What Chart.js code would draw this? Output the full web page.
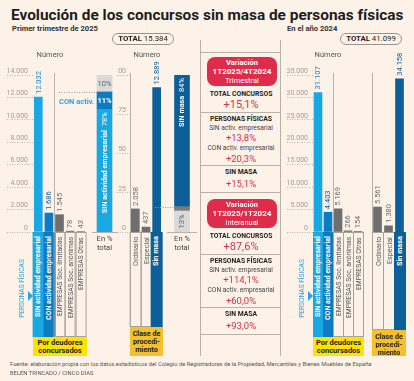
<!DOCTYPE html>
<html>
<head>
<meta charset="utf-8">
<script src="https://cdn.jsdelivr.net/npm/chart.js@4.4.1/dist/chart.umd.min.js"></script>
<style>
  body { margin: 0; background: #fdf2e8; font-family: Roboto, "Liberation Sans", sans-serif; color: #222; }
  #page { position: relative; width: 414px; height: 381px; overflow: hidden; }
  canvas { position: absolute; }
  .col { position: absolute; box-sizing: border-box; writing-mode: vertical-rl; transform: rotate(180deg);
         text-align: end; white-space: nowrap; overflow: hidden; font-size: 6.8px; }
</style>
</head>
<body>
<div id="page"></div>
<script>
// ---- data ----
const deudores = ["SIN actividad empresarial", "CON actividad empresarial", "EMPRESAS Soc. limitadas", "EMPRESAS Soc. anónimas", "EMPRESAS Otras"];
const deudores2025 = [12032, 1686, 1545, 78, 43];
const deudores2024 = [31107, 4403, 5169, 266, 154];
const clases = ["Ordinario", "Especial", "Sin masa"];
const clases2025 = [2058, 437, 12889];
const clases2024 = [5561, 1380, 34158];
const pctDeudores2025 = [78.2, 11.0, 10.8];   // SIN activ., CON activ., empresas
const pctDeudoresTxt = ["78%", "11%", "10%"];
const pctClases2025 = [13.4, 2.8, 83.8];      // ordinario, especial, sin masa
const pctClasesTxt = ["13%", "3%", "84%"];
const ticks2025 = [0, 2000, 4000, 6000, 8000, 10000, 12000, 14000];
const ticks2024 = [0, 5000, 10000, 15000, 20000, 25000, 30000, 35000];
const pctTicks = [0, 25, 50, 75, 100];
const totales = [15384, 41099];
const varGrupos = ["TOTAL CONCURSOS", "PERSONAS FÍSICAS", "SIN MASA"];
const varTrimestral = [15.1, 13.8, 20.3, 15.1];
const varInteranual = [87.6, 114.1, 60.0, 93.0];

const CYAN = '#1aa8e3', MID = '#0c7cc2', DARK = '#0c5f98', GRAY = '#6f6f6f', LIGHT = '#d9d9d9';
const RED = '#df2c4b', REDTXT = '#d2334f';

const page = document.getElementById('page');
const fmt = n => String(n).replace(/\B(?=(\d{3})+(?!\d))/g, '.');
const varFmt = n => '+' + n.toFixed(1).replace('.', ',') + '%';

function el(css, html) {
  const d = document.createElement('div');
  d.style.cssText = 'position:absolute;' + css;
  if (html) d.innerHTML = html;
  page.appendChild(d);
  return d;
}
function txt(x, y, html, css, left) {
  const t = left ? 'translate(0,-50%)' : 'translate(-50%,-50%)';
  return el(`left:${x}px;top:${y}px;transform:${t};white-space:nowrap;line-height:1;${css || ''}`, html);
}
function line(x1, y1, x2, y2, c) {
  el(`left:${x1}px;top:${y1}px;width:${Math.max(1, x2 - x1)}px;height:${Math.max(1, y2 - y1)}px;background:${c || '#b9b0a8'}`);
}
function addCanvas(x, y, w, h) {
  const c = document.createElement('canvas');
  c.width = w; c.height = h;
  c.style.left = x + 'px'; c.style.top = y + 'px';
  c.style.width = w + 'px'; c.style.height = h + 'px';
  page.appendChild(c);
  return c;
}

Chart.defaults.font.family = 'Roboto';

// rotated value above each bar
const barValues = {
  id: 'barValues',
  afterDatasetsDraw(chart, args, opts) {
    if (!opts || !opts.colors) return;
    const ctx = chart.ctx;
    const data = chart.data.datasets[0].data;
    ctx.save();
    ctx.font = '7.5px Roboto';
    ctx.textBaseline = 'middle';
    ctx.textAlign = 'left';
    chart.getDatasetMeta(0).data.forEach((bar, i) => {
      ctx.save();
      ctx.translate(bar.x + 0.5, bar.y - 3);
      ctx.rotate(-Math.PI / 2);
      ctx.fillStyle = opts.colors[i];
      ctx.fillText(fmt(data[i]), 0, 0);
      ctx.restore();
    });
    ctx.restore();
  }
};
// thin line at zero
const baseline = {
  id: 'baseline',
  afterDatasetsDraw(chart, args, opts) {
    if (!opts || !opts.show) return;
    const ctx = chart.ctx, y = chart.scales.y.getPixelForValue(0);
    ctx.save();
    ctx.strokeStyle = '#b9b0a8'; ctx.lineWidth = 1;
    ctx.beginPath(); ctx.moveTo(chart.chartArea.left, y + 0.5); ctx.lineTo(chart.chartArea.right, y + 0.5); ctx.stroke();
    ctx.restore();
  }
};
Chart.register(barValues, baseline);

function tickAxis(max, ticks, width, tickLen, pad) {
  return {
    min: 0, max: max,
    afterBuildTicks: s => { s.ticks = ticks.map(v => ({ value: v })); },
    afterFit: s => { s.width = width; },
    border: { display: false },
    grid: { drawOnChartArea: false, drawTicks: true, tickLength: tickLen, tickColor: '#bdb3aa', tickBorderDash: [1, 1.5] },
    ticks: { padding: pad, labelOffset: -4, color: '#a39b94', font: { size: 7 }, callback: v => fmt(v) }
  };
}
function baseOpts(pad) {
  return {
    responsive: false, animation: false, events: [],
    layout: { padding: pad },
    plugins: { legend: { display: false }, tooltip: { enabled: false } }
  };
}

// ---- 1T2025 por deudores ----
let o = baseOpts({ top: 12, bottom: 4, left: 0, right: 0 });
o.plugins.barValues = { colors: ['#1b86c9', DARK, GRAY, GRAY, GRAY] };
o.scales = { x: { display: false }, y: tickAxis(14000, ticks2025, 28, 26, -21) };
new Chart(addCanvas(5, 63, 81, 173), {
  type: 'bar',
  data: { labels: deudores, datasets: [{ data: deudores2025, backgroundColor: [CYAN, MID, GRAY, GRAY, GRAY], barThickness: 8 }] },
  options: o
});

// ---- 1T2025 clase de procedimiento (with % axis) ----
o = baseOpts({ top: 30, bottom: 4, left: 0, right: 0 });
o.plugins.barValues = { colors: [GRAY, GRAY, DARK] };
o.scales = {
  x: { display: false },
  y: { display: false, min: 0, max: 14000 },
  pct: Object.assign(tickAxis(100, pctTicks, 13, 13, -9), { type: 'linear', position: 'left' })
};
new Chart(addCanvas(117, 45, 45, 191), {
  type: 'bar',
  data: { labels: clases, datasets: [{ data: clases2025, backgroundColor: [GRAY, GRAY, DARK], barThickness: 8 }] },
  options: o
});

// ---- 1T2025 % deudores ----
o = baseOpts({ top: 12, bottom: 4, left: 35, right: 0 });
o.plugins.baseline = { show: true };
o.scales = { x: { display: false, stacked: true }, y: { display: false, stacked: true, min: 0, max: 100 } };
new Chart(addCanvas(57, 63, 60, 173), {
  type: 'bar',
  data: {
    labels: ['En % total'],
    datasets: [
      { data: [pctDeudores2025[0]], backgroundColor: CYAN, barThickness: 15 },
      { data: [pctDeudores2025[1]], backgroundColor: MID, barThickness: 15 },
      { data: [pctDeudores2025[2]], backgroundColor: LIGHT, barThickness: 15 }
    ]
  },
  options: o,
  plugins: [{
    id: 'segs',
    afterDatasetsDraw(chart) {
      const ctx = chart.ctx;
      const s = [0, 1, 2].map(i => chart.getDatasetMeta(i).data[0]);
      ctx.save();
      ctx.textBaseline = 'middle';
      // SIN actividad
      ctx.save();
      ctx.translate(s[0].x + 0.5, s[0].y + 3);
      ctx.rotate(-Math.PI / 2);
      ctx.textAlign = 'right'; ctx.fillStyle = '#fff';
      ctx.font = '7.5px Roboto';
      const p = pctDeudoresTxt[0];
      ctx.fillText(p, 0, 0);
      const w = ctx.measureText(p).width;
      ctx.font = 'bold 7.2px Roboto';
      ctx.fillText('SIN actividad empresarial', -w - 4, 0);
      ctx.restore();
      // CON
      ctx.textAlign = 'center';
      ctx.font = 'bold 7.5px Roboto'; ctx.fillStyle = '#fff';
      ctx.fillText(pctDeudoresTxt[1], s[1].x, (s[1].y + s[1].base) / 2 + 0.5);
      ctx.font = '7.5px Roboto'; ctx.fillStyle = '#666';
      ctx.fillText(pctDeudoresTxt[2], s[2].x, (s[2].y + s[2].base) / 2 + 0.5);
      // dotted connector + label
      ctx.strokeStyle = '#999'; ctx.setLineDash([1, 1.5]); ctx.lineWidth = 1;
      ctx.beginPath();
      ctx.moveTo(2, Math.round(s[1].y) + 0.5); ctx.lineTo(s[1].x - s[1].width / 2, Math.round(s[1].y) + 0.5);
      ctx.stroke();
      ctx.setLineDash([]);
      ctx.textAlign = 'left'; ctx.font = 'bold 7.5px Roboto'; ctx.fillStyle = '#2ba3dc';
      ctx.fillText('CON activ.', 2, s[1].y + 10);
      ctx.restore();
    }
  }]
});

// ---- 1T2025 % clase ----
o = baseOpts({ top: 12, bottom: 4, left: 17, right: 0 });
o.plugins.baseline = { show: true };
o.scales = { x: { display: false, stacked: true }, y: { display: false, stacked: true, min: 0, max: 100 } };
new Chart(addCanvas(150, 63, 47, 173), {
  type: 'bar',
  data: {
    labels: ['En % total'],
    datasets: [
      { data: [pctClases2025[0]], backgroundColor: LIGHT, barThickness: 15 },
      { data: [pctClases2025[1]], backgroundColor: '#7a7a7a', barThickness: 15 },
      { data: [pctClases2025[2]], backgroundColor: DARK, barThickness: 15 }
    ]
  },
  options: o,
  plugins: [{
    id: 'segs2',
    afterDatasetsDraw(chart) {
      const ctx = chart.ctx;
      const s = [0, 1, 2].map(i => chart.getDatasetMeta(i).data[0]);
      ctx.save();
      ctx.textBaseline = 'middle';
      ctx.save();
      ctx.translate(s[2].x + 0.5, s[2].y + 3);
      ctx.rotate(-Math.PI / 2);
      ctx.textAlign = 'right'; ctx.fillStyle = '#fff';
      ctx.font = '7.5px Roboto';
      const p = pctClasesTxt[2];
      ctx.fillText(p, 0, 0);
      const w = ctx.measureText(p).width;
      ctx.font = 'bold 7.2px Roboto';
      ctx.fillText('SIN masa', -w - 4, 0);
      ctx.restore();
      ctx.save();
      ctx.translate(s[0].x + 0.5, (s[0].y + s[0].base) / 2);
      ctx.rotate(-Math.PI / 2);
      ctx.textAlign = 'center'; ctx.fillStyle = '#666'; ctx.font = '7.5px Roboto';
      ctx.fillText(pctClasesTxt[0], 0, 0);
      ctx.restore();
      ctx.strokeStyle = '#999'; ctx.setLineDash([1, 1.5]); ctx.lineWidth = 1;
      ctx.beginPath();
      ctx.moveTo(5, Math.round(s[1].y) + 0.5); ctx.lineTo(s[1].x - s[1].width / 2, Math.round(s[1].y) + 0.5);
      ctx.stroke();
      ctx.restore();
    }
  }]
});

// ---- 2024 por deudores ----
o = baseOpts({ top: 30, bottom: 4, left: 0, right: 0 });
o.plugins.barValues = { colors: ['#1b86c9', DARK, GRAY, GRAY, GRAY] };
o.scales = { x: { display: false }, y: tickAxis(35000, ticks2024, 28, 26, -21) };
new Chart(addCanvas(285, 45, 78, 191), {
  type: 'bar',
  data: { labels: deudores, datasets: [{ data: deudores2024, backgroundColor: [CYAN, MID, GRAY, GRAY, GRAY], barThickness: 8 }] },
  options: o
});

// ---- 2024 clase ----
o = baseOpts({ top: 30, bottom: 4, left: 0, right: 0 });
o.plugins.barValues = { colors: [GRAY, GRAY, DARK] };
o.scales = { x: { display: false }, y: { display: false, min: 0, max: 35000 } };
new Chart(addCanvas(372, 45, 33, 191), {
  type: 'bar',
  data: { labels: clases, datasets: [{ data: clases2024, backgroundColor: [GRAY, GRAY, DARK], barThickness: 8 }] },
  options: o
});

// ---- headings ----
txt(11, 16, 'Evolución de los concursos sin masa de personas físicas',
  'font-family:"Liberation Sans Narrow",Roboto,sans-serif;font-weight:bold;font-size:15.4px;color:#1d1d1d', true);
txt(12, 29, 'Primer trimestre de 2025', 'font-weight:bold;font-size:7.6px;color:#333', true);
txt(287, 29, 'En el año 2024', 'font-weight:bold;font-size:7.6px;color:#333', true);
el('left:112px;top:33px;width:62px;height:12px;border:1px solid #9a938c;border-radius:7px;box-sizing:border-box;' +
   'font-size:7.8px;line-height:10px;text-align:center;color:#222', '<b>TOTAL</b> ' + fmt(totales[0]));
el('left:340px;top:33px;width:62px;height:12px;border:1px solid #9a938c;border-radius:7px;box-sizing:border-box;' +
   'font-size:7.8px;line-height:10px;text-align:center;color:#222', '<b>TOTAL</b> ' + fmt(totales[1]));
txt(50, 55, 'Número', 'font-size:7.5px;color:#555');
txt(147, 55, 'Número', 'font-size:7.5px;color:#555');
txt(328, 55, 'Número', 'font-size:7.5px;color:#555');
txt(104.5, 239, 'En %', 'font-size:7.5px;color:#444');
txt(104.5, 248, 'total', 'font-size:7.5px;color:#444');
txt(182, 239, 'En %', 'font-size:7.5px;color:#444');
txt(182, 248, 'total', 'font-size:7.5px;color:#444');

// separators
line(54, 73, 55, 232);
line(130, 73, 131, 327);
line(333, 73, 334, 232);
line(372, 73, 373, 330);

// ---- label boxes under bars ----
function deudorBoxes(x0, cw) {
  const fills = [CYAN, MID, null, null, null];
  deudores.forEach((name, i) => {
    const f = fills[i];
    el(`left:${x0 + i * cw}px;top:232px;width:${cw + 1}px;height:105px;` +
       (f ? `background:${f};color:#fff;font-weight:bold;font-size:7px;` : 'border:1px solid #a9a29b;color:#555;') +
       `line-height:${cw}px;padding-bottom:4px;`, name).className = 'col';
  });
  el(`left:${x0}px;top:337px;width:${cw * 5 + 1}px;height:19px;background:#ffe200;font-weight:bold;font-size:7.5px;` +
     'line-height:8px;text-align:center;padding-top:2px;box-sizing:border-box;color:#222', 'Por deudores<br>concursados');
}
function claseBoxes(x0, cw, h) {
  clases.forEach((name, i) => {
    const dark = i === 2;
    el(`left:${x0 + i * cw}px;top:232px;width:${cw + 1}px;height:${h}px;` +
       (dark ? `background:${DARK};color:#fff;font-weight:bold;font-size:7.2px;` : 'border:1px solid #a9a29b;color:#666;font-size:7.2px;') +
       `line-height:${cw}px;padding-bottom:4px;`, name).className = 'col';
  });
  el(`left:${x0}px;top:${232 + h}px;width:${cw * 3 + 1}px;height:${356 - 232 - h}px;background:#f5bf2d;font-weight:bold;font-size:7.2px;` +
     'line-height:8px;text-align:center;padding-top:3px;box-sizing:border-box;color:#222', 'Clase de<br>procedi-<br>miento');
}
deudorBoxes(33, 10.6);
claseBoxes(130, 32 / 3, 95);
deudorBoxes(313, 10);
claseBoxes(372, 11, 98);

function personas(x) {
  el(`left:${x - 50}px;top:284px;width:100px;height:9px;transform:rotate(-90deg);text-align:center;font-size:6.6px;line-height:9px;color:#2ba3dc`, 'PERSONAS FÍSICAS');
  el(`left:${x + 6}px;top:291px;width:0;height:0;border-top:5px solid transparent;border-bottom:5px solid transparent;border-left:5px solid #2ba3dc`);
}
personas(22);
personas(302);

// ---- middle panel: variations ----
line(200, 40, 201, 356);
line(280, 40, 281, 356);
line(200, 52, 281, 53);
function varBlock(y0, periodo, tipo, vals) {
  el(`left:207px;top:${y0}px;width:70px;height:29px;background:${RED};border-radius:8px`);
  txt(242, y0 + 5.5, 'Variación', 'font-weight:bold;font-size:7.5px;color:#fff');
  txt(242, y0 + 15, periodo, 'font-weight:bold;font-size:8px;color:#fff');
  txt(242, y0 + 24, tipo, 'font-size:7.5px;color:#fff');
  txt(241, y0 + 37, varGrupos[0], 'font-weight:bold;font-size:6.8px;color:#222');
  txt(241, y0 + 46.5, varFmt(vals[0]), `font-size:11px;color:${REDTXT}`);
  line(200, y0 + 55, 281, y0 + 56);
  txt(241, y0 + 61.5, varGrupos[1], 'font-weight:bold;font-size:6.8px;color:#222');
  txt(241, y0 + 70.5, 'SIN activ. empresarial', 'font-size:6.6px;color:#444');
  txt(241, y0 + 81, varFmt(vals[1]), `font-size:9.5px;color:${REDTXT}`);
  txt(241, y0 + 91, 'CON activ. empresarial', 'font-size:6.6px;color:#444');
  txt(241, y0 + 102, varFmt(vals[2]), `font-size:9.5px;color:${REDTXT}`);
  line(200, y0 + 108, 281, y0 + 109);
  txt(241, y0 + 115, varGrupos[2], 'font-weight:bold;font-size:6.8px;color:#222');
  txt(241, y0 + 126.5, varFmt(vals[3]), `font-size:9.5px;color:${REDTXT}`);
  line(200, y0 + 135, 281, y0 + 136);
}
varBlock(57, '1T2025/4T2024', 'Trimestral', varTrimestral);
varBlock(199, '1T2025/1T2024', 'Interanual', varInteranual);

// ---- footer ----
txt(10, 365, 'Fuente: elaboración propia con los datos estadísticos del Colegio de Registradores de la Propiedad, Mercantiles y Bienes Muebles de España',
  'font-size:5.8px;color:#555', true);
txt(10, 374, 'BELÉN TRINCADO / CINCO DÍAS', 'font-size:5.8px;color:#555', true);
</script>
</body>
</html>
